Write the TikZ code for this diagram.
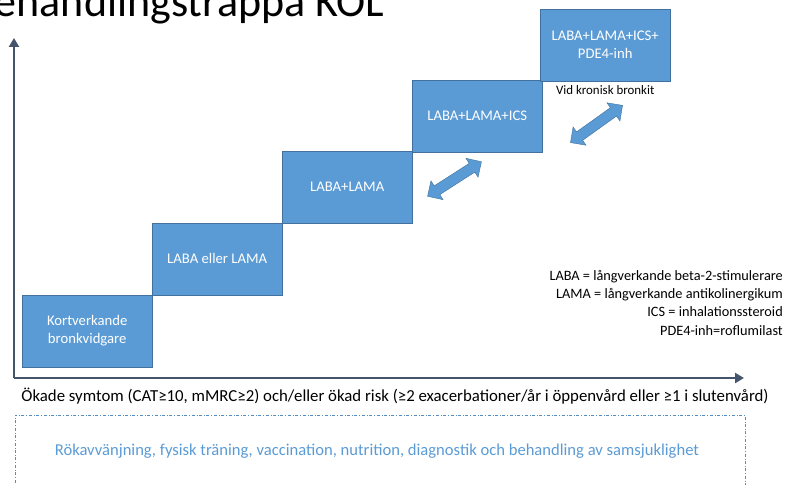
\documentclass[tikz,border=0pt]{standalone}
\usepackage{fontspec}
\setmainfont{Carlito}
\usepackage{tikz}
\usetikzlibrary{arrows.meta, positioning, shapes.arrows}
\definecolor{stepblue}{HTML}{5B9BD5}
\definecolor{stepedge}{HTML}{41719C}
\definecolor{axisgray}{HTML}{44546A}
\tikzset{
    every node/.style={inner sep=2pt},
    stepbox/.style={draw=stepedge, fill=stepblue, thin, text=white, align=center,
        minimum width=130pt, minimum height=72pt, anchor=south west,
        font=\fontsize{14.7}{18}\selectfont},
    axis/.style={draw=axisgray, line width=2.6pt, -{Triangle[width=10pt, length=9pt]}},
    swap/.style={double arrow, draw=stepedge, fill=stepblue, thin,
        inner xsep=0pt, inner ysep=5pt, minimum height=64pt,
        double arrow head extend=6pt, double arrow head indent=0pt}
}

\begin{document}
\begin{tikzpicture}[x=1pt, y=-1pt]
    \useasboundingbox (0,0) rectangle (791,484);

    % title, cut by the page
    \node[anchor=base east, inner sep=0pt, font=\fontsize{44}{48}\selectfont] (title) at (384,17) {Behandlingstrappa KOL};

    % axes
    \coordinate (origin) at (14,378);
    \coordinate (ytop) at (14,38);
    \coordinate (xend) at (744,378);
    \draw[axis] (origin) -- (ytop);
    \draw[axis] (origin) -- (xend);

    % steps
    \node[stepbox] (s1) at (22,367) {Kortverkande\\bronkvidgare};
    \node[stepbox] (s2) at (152,295) {LABA eller LAMA};
    \node[stepbox] (s3) at (282,223) {LABA+LAMA};
    \node[stepbox] (s4) at (412,152) {LABA+LAMA+ICS};
    \node[stepbox] (s5) at (540,81) {LABA+LAMA+ICS+\\PDE4-inh};
    \node[below=2pt of s5, font=\fontsize{12.9}{15}\selectfont] (bronkit) {Vid kronisk bronkit};

    % switch arrows
    \node[swap, rotate=32.7] (sw1) at (454.5,179) {};
    \node[swap, rotate=35.6] (sw2) at (596.5,124) {};

    % legend
    \node[anchor=north east, align=right, font=\fontsize{14.3}{18.3}\selectfont] (legend) at (785,268)
        {LABA = långverkande beta-2-stimulerare\\LAMA = långverkande antikolinergikum\\ICS = inhalationssteroid\\PDE4-inh=roflumilast};

    % axis text
    \node[font=\fontsize{16.8}{20}\selectfont] (xlabel) at (395,396)
        {Ökade symtom (CAT≥10, mMRC≥2) och/eller ökad risk (≥2 exacerbationer/år i öppenvård eller ≥1 i slutenvård)};

    % base treatment
    \draw[stepblue!80!axisgray, thin, dash dot] (15,490) -- (15,415) -- (745,415) -- (745,490);
    \node[text=stepblue, font=\fontsize{16.6}{20}\selectfont] (base) at (377,451)
        {Rökavvänjning, fysisk träning, vaccination, nutrition, diagnostik och behandling av samsjuklighet};
\end{tikzpicture}
\end{document}
